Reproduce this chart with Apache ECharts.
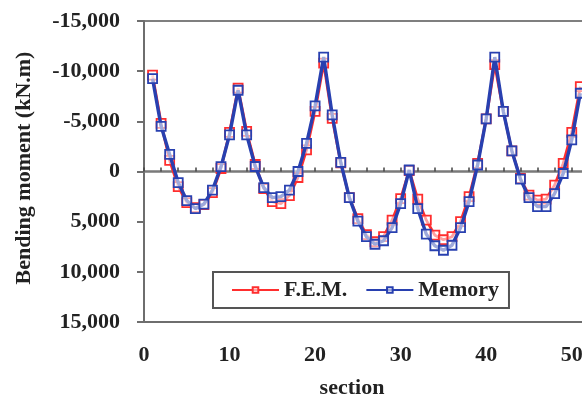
<!DOCTYPE html>
<html>
<head>
<meta charset="utf-8">
<script src="https://cdn.jsdelivr.net/npm/echarts@6/dist/echarts.min.js"></script>
<style>
  html, body { margin: 0; padding: 0; background: #fff; }
  #chart { width: 582px; height: 396px; }
</style>
</head>
<body>
<div id="chart"></div>
<script>
// Section numbers along the member
const sections = [1,2,3,4,5,6,7,8,9,10,11,12,13,14,15,16,17,18,19,20,21,22,23,24,25,26,
  27,28,29,30,31,32,33,34,35,36,37,38,39,40,41,42,43,44,45,46,47,48,49,50,51];

// Bending moment from the finite element model (kN.m)
const femMoment = [-9600,-4800,-1100,1500,3100,3600,3300,2100,-300,-3900,-8300,-4000,-700,
  1700,3000,3200,2400,600,-2150,-6000,-10800,-5300,-850,2600,4700,6300,7000,6500,4850,2700,
  -100,2750,4850,6350,6800,6500,5000,2500,-800,-5250,-10650,-6000,-2050,700,2350,2850,2750,
  1350,-800,-3900,-8450];

// Bending moment from the memory method (kN.m)
const memoryMoment = [-9250,-4500,-1700,1100,2900,3700,3250,1850,-480,-3650,-8100,-3650,-500,
  1600,2600,2500,1850,0,-2800,-6550,-11400,-5650,-900,2600,4950,6500,7250,6900,5600,3200,
  -150,3700,6250,7400,7850,7350,5600,3000,-650,-5250,-11400,-6000,-2050,750,2600,3500,3500,
  2200,200,-3150,-7800];

const seriesNames = ['F.E.M.', 'Memory'];
const xTicks = [0, 10, 20, 30, 40, 50, 60];
const yTicks = [-15000, -10000, -5000, 0, 5000, 10000, 15000];

const FONT = 'Liberation Serif';
const TEXT_COLOR = '#222';
const AXIS_COLOR = '#6e6e6e';

const toPairs = vals => sections.map((s, i) => [s, vals[i]]);

const chart = echarts.init(document.getElementById('chart'), null, { renderer: 'canvas' });

const pxPerUnit = 8.555;
const xMax = xTicks[xTicks.length - 1];

chart.setOption({
  animation: false,
  backgroundColor: '#fff',
  grid: {
    left: 144, top: 21, height: 301, width: xMax * pxPerUnit,
    containLabel: false,
    outerBoundsMode: 'none',
    show: true, borderColor: '#7f7f7f', borderWidth: 2, backgroundColor: 'transparent'
  },
  legend: {
    data: seriesNames,
    left: 213, top: 272,
    orient: 'horizontal',
    padding: [7, 10, 7, 18],
    itemGap: 18,
    itemWidth: 47,
    itemHeight: 7,
    borderColor: '#555',
    borderWidth: 2,
    backgroundColor: '#fff',
    textStyle: { fontFamily: FONT, fontSize: 22, fontWeight: 'bold', color: TEXT_COLOR }
  },
  xAxis: [
    {
      type: 'value',
      min: xTicks[0], max: xMax, interval: xTicks[1] - xTicks[0],
      position: 'bottom',
      axisLine: { onZero: false, lineStyle: { color: AXIS_COLOR, width: 2 } },
      axisTick: { show: false },
      splitLine: { show: false },
      axisLabel: {
        margin: 22, fontFamily: FONT, fontSize: 22, fontWeight: 'bold', color: TEXT_COLOR,
        hideOverlap: false
      }
    },
    {
      // zero line with small upward ticks every two sections
      type: 'value',
      min: 0, max: xMax, interval: 2,
      position: 'bottom',
      axisLine: { onZero: true, onZeroAxisIndex: 0, lineStyle: { color: '#7a7a7a', width: 2.5 } },
      axisTick: { show: true, inside: true, length: 4, lineStyle: { color: '#444', width: 1.5 } },
      splitLine: { show: false },
      axisLabel: { show: false }
    }
  ],
  yAxis: {
    type: 'value',
    inverse: true,
    min: yTicks[0], max: yTicks[yTicks.length - 1], interval: yTicks[1] - yTicks[0],
    axisLine: { show: true, lineStyle: { color: AXIS_COLOR, width: 2 } },
    axisTick: { show: true, length: 7, lineStyle: { color: AXIS_COLOR, width: 2 } },
    splitLine: { show: false },
    axisLabel: {
      margin: 24, fontFamily: FONT, fontSize: 22, fontWeight: 'bold', color: TEXT_COLOR,
      formatter: v => v.toLocaleString('en-US')
    }
  },
  graphic: [
    {
      type: 'text', x: 24, y: 168, rotation: Math.PI / 2,
      style: {
        text: 'Bending moment (kN.m)', fill: TEXT_COLOR,
        font: 'bold 22px "' + FONT + '"', textAlign: 'center', textVerticalAlign: 'middle'
      }
    },
    {
      type: 'text', x: 352, y: 388,
      style: {
        text: 'section', fill: TEXT_COLOR,
        font: 'bold 22px "' + FONT + '"', textAlign: 'center', textVerticalAlign: 'middle'
      }
    }
  ],
  series: [
    {
      name: seriesNames[0],
      type: 'line',
      xAxisIndex: 0,
      data: toPairs(femMoment),
      symbol: 'rect', symbolSize: 9,
      lineStyle: { color: '#ff2e2e', width: 2.8 },
      itemStyle: { color: 'rgba(255,255,255,0.55)', borderColor: '#ff2e2e', borderWidth: 1.8 },
      z: 3
    },
    {
      name: seriesNames[1],
      type: 'line',
      xAxisIndex: 0,
      data: toPairs(memoryMoment),
      symbol: 'rect', symbolSize: 9,
      lineStyle: { color: '#2840b0', width: 3.4 },
      itemStyle: { color: 'rgba(255,255,255,0.55)', borderColor: '#2840b0', borderWidth: 1.8 },
      z: 4
    }
  ]
});
</script>
</body>
</html>
